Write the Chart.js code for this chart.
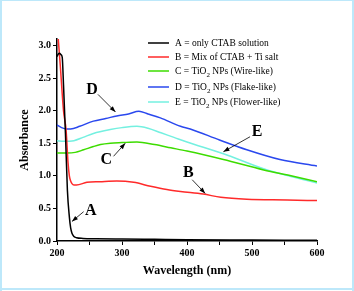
<!DOCTYPE html>
<html>
<head>
<meta charset="utf-8">
<script src="https://cdn.jsdelivr.net/npm/chart.js@4.4.1/dist/chart.umd.min.js"></script>
<style>
  html, body { margin: 0; padding: 0; background: #fff; }
  #wrap { width: 354px; height: 291px; position: relative; }
</style>
</head>
<body>
<div id="wrap"><canvas id="absChart" width="354" height="291"></canvas></div>
<script>
// A = only CTAB solution
const wlA = [200, 202, 204, 206, 208, 210, 213, 216, 219, 221, 223, 226, 230, 240, 260, 300, 350, 400, 500, 600];
const absA = [2.83, 2.87, 2.88, 2.86, 2.82, 2.4, 1.65, 0.78, 0.37, 0.2, 0.12, 0.07, 0.05, 0.04, 0.035, 0.03, 0.025, 0.02, 0.015, 0.01];
// B = Mix of CTAB + Ti salt
const wlB = [200, 205, 210, 214, 217, 219, 221, 223, 226, 230, 246, 266, 292, 318, 344, 369, 390, 425, 452, 492, 554, 600];
const absB = [3.35, 2.7, 2.0, 1.7, 1.2, 1.0, 0.92, 0.88, 0.86, 0.86, 0.9, 0.91, 0.92, 0.9, 0.84, 0.79, 0.76, 0.72, 0.67, 0.64, 0.63, 0.62];
// C = TiO2 wire-like
const wlC = [200, 215, 228, 241, 256, 267, 282, 300, 323, 350, 375, 400, 456, 518, 560, 600];
const absC = [1.35, 1.35, 1.36, 1.4, 1.45, 1.48, 1.5, 1.51, 1.52, 1.48, 1.43, 1.38, 1.25, 1.09, 1.0, 0.91];
// D = TiO2 flake-like
const wlD = [200, 207, 215, 221, 235, 256, 275, 292, 310, 326, 340, 359, 390, 405, 450, 492, 543, 600];
const absD = [1.78, 1.74, 1.72, 1.72, 1.76, 1.84, 1.88, 1.92, 1.95, 1.99, 1.95, 1.89, 1.76, 1.72, 1.55, 1.4, 1.25, 1.15];
// E = TiO2 flower-like
const wlE = [200, 210, 226, 240, 256, 282, 300, 323, 340, 360, 380, 400, 456, 520, 560, 600];
const absE = [1.54, 1.53, 1.54, 1.59, 1.65, 1.71, 1.74, 1.76, 1.73, 1.66, 1.59, 1.52, 1.34, 1.1, 0.99, 0.89];

const seriesNames = ['A', 'B', 'C', 'D', 'E'];
const seriesColors = ['#000000', '#ff2a2a', '#3ddc00', '#2a48ee', '#74f0e0'];
// legend text parts: [before subscript, subscript, after]
const legendText = [
  ['A = only CTAB solution', '', ''],
  ['B = Mix of CTAB + Ti salt', '', ''],
  ['C = TiO', '2', ' NPs (Wire-like)'],
  ['D = TiO', '2', ' NPs (Flake-like)'],
  ['E = TiO', '2', ' NPs (Flower-like)']
];
const legendRowY = [43, 57, 71, 87, 102];

// letter labels + arrows, in data units (wavelength, absorbance)
const callouts = [
  { t: 'D', lx: 254, ly: 2.32, x0: 263, y0: 2.25, x1: 290, y1: 1.98 },
  { t: 'C', lx: 276, ly: 1.25, x0: 287, y0: 1.3, x1: 305, y1: 1.5 },
  { t: 'A', lx: 252, ly: 0.47, x0: 241, y0: 0.45, x1: 223, y1: 0.3 },
  { t: 'B', lx: 402, ly: 1.04, x0: 408, y0: 0.94, x1: 428, y1: 0.73 },
  { t: 'E', lx: 508, ly: 1.68, x0: 497, y0: 1.6, x1: 456, y1: 1.37 }
];

const allWl = [wlA, wlB, wlC, wlD, wlE];
const allAbs = [absA, absB, absC, absD, absE];

const datasets = seriesNames.map((n, i) => ({
  label: n,
  data: allWl[i].map((w, j) => ({ x: w, y: allAbs[i][j] })),
  borderColor: seriesColors[i],
  borderWidth: 1.5,
  pointRadius: 0,
  fill: false,
  tension: 0.4,
  cubicInterpolationMode: 'monotone'
}));

const serif = '"Liberation Serif", "Times New Roman", serif';

const extras = {
  id: 'extras',
  afterDatasetsDraw(chart) {
    const ctx = chart.ctx;
    const xs = chart.scales.x, ys = chart.scales.y;
    ctx.save();
    // legend
    ctx.textBaseline = 'middle';
    legendText.forEach((parts, i) => {
      const y = legendRowY[i];
      ctx.strokeStyle = seriesColors[i];
      ctx.lineWidth = 1.5;
      ctx.beginPath();
      ctx.moveTo(148, y);
      ctx.lineTo(169, y);
      ctx.stroke();
      ctx.fillStyle = '#000';
      ctx.font = '9.5px ' + serif;
      let x = 175;
      ctx.fillText(parts[0], x, y);
      x += ctx.measureText(parts[0]).width;
      if (parts[1]) {
        ctx.font = '7px ' + serif;
        ctx.fillText(parts[1], x, y + 4);
        x += ctx.measureText(parts[1]).width;
        ctx.font = '9.5px ' + serif;
        ctx.fillText(parts[2], x, y);
      }
    });
    // callouts
    callouts.forEach(c => {
      const lx = xs.getPixelForValue(c.lx), ly = ys.getPixelForValue(c.ly);
      ctx.fillStyle = '#000';
      ctx.font = 'bold 16px ' + serif;
      ctx.textAlign = 'center';
      ctx.textBaseline = 'middle';
      ctx.fillText(c.t, lx, ly);
      const x0 = xs.getPixelForValue(c.x0), y0 = ys.getPixelForValue(c.y0);
      const x1 = xs.getPixelForValue(c.x1), y1 = ys.getPixelForValue(c.y1);
      ctx.strokeStyle = '#000';
      ctx.lineWidth = 0.8;
      ctx.beginPath();
      ctx.moveTo(x0, y0);
      ctx.lineTo(x1, y1);
      ctx.stroke();
      const a = Math.atan2(y1 - y0, x1 - x0);
      ctx.beginPath();
      ctx.moveTo(x1, y1);
      ctx.lineTo(x1 - 6 * Math.cos(a) + 2.2 * Math.sin(a), y1 - 6 * Math.sin(a) - 2.2 * Math.cos(a));
      ctx.lineTo(x1 - 6 * Math.cos(a) - 2.2 * Math.sin(a), y1 - 6 * Math.sin(a) + 2.2 * Math.cos(a));
      ctx.closePath();
      ctx.fill();
    });
    // outer light-blue frame
    ctx.fillStyle = '#bde8fa';
    ctx.fillRect(0, 0, 2, 291);
    ctx.fillRect(352, 0, 2, 291);
    ctx.fillRect(0, 0, 354, 1);
    ctx.fillRect(0, 288, 354, 2);
    ctx.restore();
  }
};

new Chart(document.getElementById('absChart').getContext('2d'), {
  type: 'line',
  data: { datasets: datasets },
  options: {
    responsive: false,
    animation: false,
    layout: { padding: { top: 39, right: 37, bottom: 13, left: 18 } },
    plugins: { legend: { display: false }, tooltip: { enabled: false } },
    scales: {
      x: {
        type: 'linear',
        min: 200,
        max: 600,
        afterFit(scale) { scale.height = 37; },
        border: { color: '#000', width: 1.5 },
        grid: { drawOnChartArea: false, tickLength: 4, color: '#000', tickWidth: 1 },
        ticks: {
          stepSize: 50,
          includeBounds: false,
          maxRotation: 0,
          padding: 2,
          color: '#000',
          font: { family: serif, size: 10, weight: 'bold' },
          callback: v => (v % 100 === 0 ? String(v) : '')
        },
        title: {
          display: true,
          text: 'Wavelength (nm)',
          color: '#000',
          font: { family: serif, size: 12, weight: 'bold' },
          padding: { top: 4, bottom: 0 }
        }
      },
      y: {
        min: 0,
        max: 3.1,
        afterFit(scale) { scale.width = 39; },
        border: { color: '#000', width: 1.5 },
        grid: { drawOnChartArea: false, tickLength: 4, color: '#000' },
        ticks: {
          stepSize: 0.5,
          includeBounds: false,
          padding: 2,
          color: '#000',
          font: { family: serif, size: 10, weight: 'bold' },
          callback: v => v.toFixed(1)
        },
        title: {
          display: true,
          text: 'Absorbance',
          color: '#000',
          font: { family: serif, size: 12, weight: 'bold' },
          padding: { top: 0, bottom: 0 }
        }
      }
    }
  },
  plugins: [extras]
});
</script>
</body>
</html>
